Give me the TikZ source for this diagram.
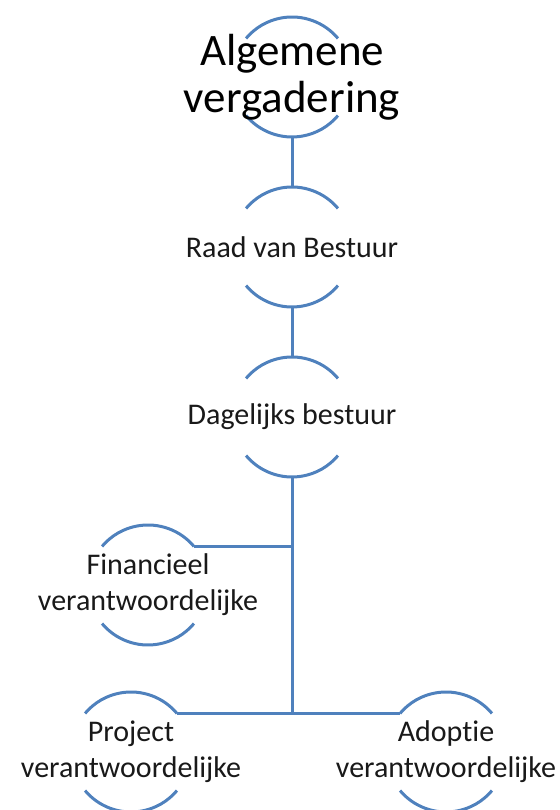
\documentclass[tikz,border=0pt]{standalone}
\usepackage{fontspec}
\setmainfont{Carlito}[Ligatures=NoCommon]
\usetikzlibrary{positioning}

\begin{document}
\begin{tikzpicture}[x=1pt,y=1pt,node distance=170pt]
\colorlet{lijnblauw}{rgb,255:red,79;green,129;blue,189}
\tikzstyle{ring}=[shape=circle,minimum size=120pt,inner sep=0pt,outer sep=0pt]
\tikzstyle{tekst}=[align=center,text=black!90,font=\fontsize{30}{36}\selectfont]
\tikzstyle{lijn}=[draw=lijnblauw,line width=3pt]
\useasboundingbox (0,0) rectangle (559,810);

\node[ring] (alg) at (292,733) {};
\node[ring,below of=alg] (raad) {};
\node[ring,below of=raad] (dag) {};
\node[ring] (fin) at (148,225) {};
\node[ring] (proj) at (131,58) {};
\node[ring] (adop) at (446,58) {};

% bogen boven en onder elke cirkel
\foreach \n in {alg,raad,dag,fin,proj,adop} {
  \draw[lijn] (\n.40) arc (40:140:60pt);
  \draw[lijn] (\n.220) arc (220:320:60pt);
}

\node[tekst,text=black,font=\fontsize{45}{47}\selectfont] (algTekst) at (alg) {Algemene\\vergadering};
\node[tekst] (raadTekst) at (raad) {Raad van Bestuur};
\node[tekst] (dagTekst) at (dag) {Dagelijks bestuur};
\node[tekst] (finTekst) at (fin) {Financieel\\verantwoordelijke};
\node[tekst] (projTekst) at (proj) {Project\\verantwoordelijke};
\node[tekst] (adopTekst) at (adop) {Adoptie\\verantwoordelijke};

\draw[lijn] (alg.south) -- (raad.north);
\draw[lijn] (raad.south) -- (dag.north);
\coordinate (splitsing) at (dag.south |- proj.40);
\coordinate (finAansluiting) at (dag.south |- fin.40);
\draw[lijn] (dag.south) -- (splitsing);
\draw[lijn] (fin.40) -- (finAansluiting);
\draw[lijn] (proj.40) -- (adop.140);
\end{tikzpicture}
\end{document}
